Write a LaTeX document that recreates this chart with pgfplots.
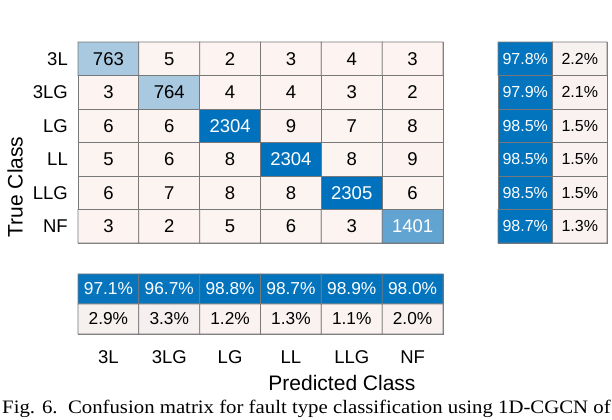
\documentclass[border=0pt]{standalone}
\usepackage{pgfplots}
\usepackage{pgfplotstable}
\pgfplotsset{compat=1.18}
\usepackage{fontspec}
\setmainfont{Liberation Sans}
\newfontfamily\capfont{Liberation Serif}

\definecolor{cmBlue}{RGB}{0,114,189}
\definecolor{cmPink}{RGB}{253,244,241}
\definecolor{cmGrid}{RGB}{120,120,120}

% confusion matrix, x = predicted, y = true (row 0 = 3L)
\pgfplotstableread{
x y v
0 0 763
1 0 5
2 0 2
3 0 3
4 0 4
5 0 3
0 1 3
1 1 764
2 1 4
3 1 4
4 1 3
5 1 2
0 2 6
1 2 6
2 2 2304
3 2 9
4 2 7
5 2 8
0 3 5
1 3 6
2 3 8
3 3 2304
4 3 8
5 3 9
0 4 6
1 4 7
2 4 8
3 4 8
4 4 2305
5 4 6
0 5 3
1 5 2
2 5 5
3 5 6
4 5 3
5 5 1401
}\conf

% row summary (recall / miss rate)
\pgfplotstableread{
x y v
0 0 97.8
1 0 2.2
0 1 97.9
1 1 2.1
0 2 98.5
1 2 1.5
0 3 98.5
1 3 1.5
0 4 98.5
1 4 1.5
0 5 98.7
1 5 1.3
}\rowsum

% column summary (precision / false discovery)
\pgfplotstableread{
x y v
0 0 97.1
1 0 96.7
2 0 98.8
3 0 98.7
4 0 98.9
5 0 98.0
0 1 2.9
1 1 3.3
2 1 1.2
3 1 1.3
4 1 1.1
5 1 2.0
}\colsum

\pgfplotsset{
  cmcell/.style={scale only axis, anchor=south west, y dir=reverse,
    xtick=\empty, ytick=\empty, major tick length=0pt,
    axis line style={cmGrid, line width=0.8bp},
    colormap={cmmap}{rgb255=(253,244,241) rgb255=(0,114,189)},
    clip=false},
  cmtext/.style={draw=none, mark=none, point meta=explicit symbolic,
    nodes near coords, nodes near coords align=center,
    every node near coord/.append style={inner sep=0pt, text=#1}},
}

\begin{document}
\begin{tikzpicture}
\useasboundingbox (0,0) rectangle (612bp,420bp);

% main matrix
\begin{axis}[cmcell, at={(78bp,177bp)}, width=365bp, height=201bp,
  xmin=-0.5, xmax=5.5, ymin=-0.5, ymax=5.5,
  point meta min=0, point meta max=2305,
  ytick={0,...,5}, yticklabels={3L,3LG,LG,LL,LLG,NF},
  yticklabel style={anchor=east, inner sep=0pt, xshift=-10bp,
    font=\fontsize{18.5bp}{20bp}\selectfont},
  every node near coord/.append style={font=\fontsize{18.5bp}{20bp}\selectfont}]
\addplot[matrix plot*, mesh/cols=6, point meta=explicit, draw=cmGrid, line width=0.8bp]
  table[meta=v] {\conf};
\addplot[cmtext=black] table[meta=t] {
x y t
0 0 763
1 0 5
2 0 2
3 0 3
4 0 4
5 0 3
0 1 3
1 1 764
2 1 4
3 1 4
4 1 3
5 1 2
0 2 6
1 2 6
3 2 9
4 2 7
5 2 8
0 3 5
1 3 6
2 3 8
4 3 8
5 3 9
0 4 6
1 4 7
2 4 8
3 4 8
5 4 6
0 5 3
1 5 2
2 5 5
3 5 6
4 5 3
};
\addplot[cmtext=white] table[meta=t] {
x y t
2 2 2304
3 3 2304
4 4 2305
5 5 1401
};
\end{axis}

% row summary
\begin{axis}[cmcell, at={(498bp,177bp)}, width=109bp, height=201bp,
  xmin=-0.5, xmax=1.5, ymin=-0.5, ymax=5.5,
  point meta min=0, point meta max=100,
  every node near coord/.append style={font=\fontsize{16bp}{18bp}\selectfont}]
\addplot[matrix plot*, mesh/cols=2, point meta=explicit, draw=cmGrid, line width=0.8bp]
  table[meta=v] {\rowsum};
\addplot[cmtext=white] table[meta=t] {
x y t
0 0 97.8\%
0 1 97.9\%
0 2 98.5\%
0 3 98.5\%
0 4 98.5\%
0 5 98.7\%
};
\addplot[cmtext=black] table[meta=t] {
x y t
1 0 2.2\%
1 1 2.1\%
1 2 1.5\%
1 3 1.5\%
1 4 1.5\%
1 5 1.3\%
};
\end{axis}

% column summary
\begin{axis}[cmcell, at={(78bp,86bp)}, width=365bp, height=60bp,
  xmin=-0.5, xmax=5.5, ymin=-0.5, ymax=1.5,
  point meta min=0, point meta max=100,
  xtick={0,...,5}, xticklabels={3L,3LG,LG,LL,LLG,NF},
  xticklabel style={anchor=center, inner sep=0pt, yshift=-23bp,
    font=\fontsize{18.5bp}{20bp}\selectfont},
  every node near coord/.append style={font=\fontsize{17.3bp}{19bp}\selectfont}]
\addplot[matrix plot*, mesh/cols=6, point meta=explicit, draw=cmGrid, line width=0.8bp]
  table[meta=v] {\colsum};
\addplot[cmtext=white] table[meta=t] {
x y t
0 0 97.1\%
1 0 96.7\%
2 0 98.8\%
3 0 98.7\%
4 0 98.9\%
5 0 98.0\%
};
\addplot[cmtext=black] table[meta=t] {
x y t
0 1 2.9\%
1 1 3.3\%
2 1 1.2\%
3 1 1.3\%
4 1 1.1\%
5 1 2.0\%
};
\end{axis}

% axis titles and caption
\node[font=\fontsize{21bp}{23bp}\selectfont] at (342bp,37bp) {Predicted Class};
\node[font=\fontsize{21bp}{23bp}\selectfont, rotate=90] at (15bp,233bp) {True Class};
\node[anchor=base west, inner sep=0pt, font=\capfont\fontsize{19bp}{21bp}\selectfont]
  at (2bp,6.7bp) {\scalebox{1.094}[1]{Fig. 6.\ \ Confusion matrix for fault type classification using 1D-CGCN of}};
\end{tikzpicture}
\end{document}
